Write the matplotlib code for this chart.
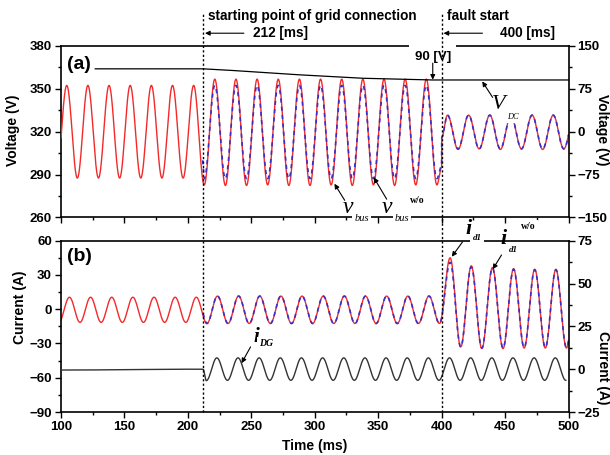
import numpy as np
import matplotlib
matplotlib.use("Agg")
import matplotlib.pyplot as plt
from matplotlib.lines import Line2D
from matplotlib import transforms
from matplotlib.ticker import MultipleLocator

plt.rcParams["font.family"] = ["Liberation Sans", "DejaVu Sans"]
plt.rcParams["font.weight"] = "bold"
plt.rcParams["axes.labelweight"] = "bold"

# event times (ms)
t_start, t_grid, t_fault, t_end = 100, 212, 400, 500
HALF = 16.67 / 2  # half period of the 60 Hz waves (ms)

# (a) v_bus (right axis, V): extrema every half period, first one a trough at 96.2 ms
vbus_first = 96.2
vbus_pre = [-81, 81, -81, 81, -81, 81, -81, 81, -81, 81, -81, 81, -81, 81]
vbus_mid = [-93, 92, -94, 92, -94, 92, -93, 92, -94, 92, -94, 92,
            -93, 92, -94, 92, -93, 92, -94, 92, -93, 92, -93]
vbus_post = [29, -31, 29, -30, 29, -31, 28, -30, 29, -31, 29, -30, 29]
vbus_jump = (-62, -10)  # just before / after the fault

# v_bus w/o (blue dashed), starts at grid connection
vbusw_first = vbus_first + 14 * HALF
vbusw_start = (211.5, -50)
vbusw_mid = [-82, 81, -82, 81, -82, 81, -82, 81, -82, 81, -82, 81,
             -82, 81, -82, 81, -82, 81, -82, 81, -82, 81, -82]
vbusw_post = [29, -30, 29, -30, 29, -30, 28, -30, 29, -30, 29, -30, 29]
vbusw_jump = (-60, -10)

# V_DC (right axis, V)
vdc_t = [127, 212, 236, 288, 338, 393, 500]
vdc_v = [110, 110, 107, 99.5, 93.5, 90.5, 90.5]

# (b) i_d1 (left axis, A): first extremum a trough at 98.3 ms
id1_first = 98.3
id1_pre = [-11.5, 10.5, -11.5, 10.5, -11.5, 10.5, -11.5, 10.5, -11.5, 10.5, -11.5, 10.5, -11.5, 10.5]
id1_mid = [-12.5, 11.5, -12.5, 11.5, -12.5, 11.5, -12.5, 11.5, -12.5, 11.5, -12.5, 11.5,
           -12.5, 11.5, -12.5, 11.5, -12.5, 11.5, -12.5, 11.5, -12.5, 11.5, -12.5]
id1_post = [45, -33, 38, -34.5, 36.5, -34.5, 35.5, -34, 35, -34, 35, -34, 35]

# i_d1 w/o (blue dashed)
id1w_first = id1_first + 14 * HALF
id1w_start = (211.5, -4)
id1w_mid = id1_mid
id1w_post = [41, -33, 37, -34, 36, -34, 35, -33.5, 34.5, -33.5, 34.5, -33.5, 34.5]

# i_DG (right axis, A): flat, then oscillating after grid connection
idg_flat = [(100, -0.5), (212, 0)]
idg_first = 214.5
idg_ext = [-6.7, 6.6, -6.5, 6.6, -6.5, 6.6, -6.5, 6.6, -6.5, 6.6, -6.5, 6.6,
           -6.5, 6.6, -6.5, 6.6, -6.5, 6.6, -6.5, 6.6, -6.5, 6.6, -6.5, 6.6,
           -6.5, 6.6, -6.5, 6.6, -6.5, 6.6, -6.5, 6.6, -6.5, 6.6, -6.5]

# axis ticks
volt_ticks = [260, 290, 320, 350, 380]
volt_r_ticks = [-150, -75, 0, 75, 150]
curr_ticks = [-90, -60, -30, 0, 30, 60]
curr_r_ticks = [-25, 0, 25, 50, 75]

RED = "#f22a2a"
BLUE = "#3a2fc8"


def knots(first, values, extra=()):
    kt = list(first + HALF * np.arange(len(values)))
    kv = list(values)
    for tx, vx in extra:
        kt.append(tx)
        kv.append(vx)
    order = np.argsort(kt, kind="stable")
    return np.array(kt)[order], np.array(kv)[order]


def smooth(kt, kv):
    # half a cosine between two read extrema
    t = np.arange(max(kt[0], t_start), min(kt[-1], t_end) + 1e-9, 0.02)
    i = np.clip(np.searchsorted(kt, t, side="right") - 1, 0, len(kt) - 2)
    t0, t1 = kt[i], kt[i + 1]
    s = np.clip((t - t0) / np.maximum(t1 - t0, 1e-9), 0, 1)
    return t, kv[i] + (kv[i + 1] - kv[i]) * (1 - np.cos(np.pi * s)) / 2


def jump(before_after):
    return [(t_fault - 0.01, before_after[0]), (t_fault, before_after[1])]


def set_y(ax, ticks):
    ax.set_ylim(ticks[0], ticks[-1])
    ax.set_yticks(ticks)
    step = ticks[1] - ticks[0]
    ax.set_yticks(np.arange(ticks[0] + step / 2, ticks[-1], step), minor=True)


fig = plt.figure(figsize=(6.1, 4.55), dpi=100)
ax1 = fig.add_axes([0.1, 0.522, 0.832, 0.377])
ax2 = fig.add_axes([0.1, 0.0945, 0.832, 0.3765])
ax1r = ax1.twinx()
ax2r = ax2.twinx()

# ---- (a)
kt, kv = knots(vbus_first, vbus_pre + vbus_mid + vbus_post, jump(vbus_jump))
ax1r.plot(*smooth(kt, kv), color=RED, lw=1.0)
kt, kv = knots(vbusw_first, vbusw_mid + vbusw_post, [vbusw_start] + jump(vbusw_jump))
ax1r.plot(*smooth(kt, kv), color=BLUE, lw=1.2, dashes=(2.5, 2.5))
ax1r.plot(vdc_t, vdc_v, color="black", lw=0.9)

# ---- (b)
kt, kv = knots(id1_first, id1_pre + id1_mid + id1_post)
ax2.plot(*smooth(kt, kv), color=RED, lw=1.0)
kt, kv = knots(id1w_first, id1w_mid + id1w_post, [id1w_start])
ax2.plot(*smooth(kt, kv), color=BLUE, lw=1.2, dashes=(2.5, 2.5))
kt, kv = knots(idg_first, idg_ext, idg_flat)
ax2r.plot(*smooth(kt, kv), color="#333333", lw=1.0)

# ---- axes styling
for ax in (ax1, ax2):
    ax.set_xlim(t_start, t_end)
    ax.xaxis.set_major_locator(MultipleLocator(50))
    ax.xaxis.set_minor_locator(MultipleLocator(25))
    ax.spines["right"].set_visible(False)
for ax in (ax1r, ax2r):
    for s in ("left", "top", "bottom"):
        ax.spines[s].set_visible(False)
for ax in (ax1, ax2, ax1r, ax2r):
    for s in ax.spines.values():
        s.set_linewidth(1.2)
    ax.tick_params(which="both", direction="out", width=1, labelsize=9.5, pad=2)
    ax.tick_params(which="major", length=4.5)
    ax.tick_params(which="minor", length=2.5)
ax1.tick_params(axis="x", labelbottom=False)

set_y(ax1, volt_ticks)
set_y(ax1r, volt_r_ticks)
set_y(ax2, curr_ticks)
set_y(ax2r, curr_r_ticks)

ax1.set_ylabel("Voltage (V)", fontsize=10, va="center")
ax1.yaxis.set_label_coords(-0.094, 0.51)
ax1r.set_ylabel("Voltage (V)", fontsize=10, rotation=270, va="center")
ax1r.yaxis.set_label_coords(1.066, 0.51)
ax2.set_ylabel("Current (A)", fontsize=10, va="center")
ax2.yaxis.set_label_coords(-0.08, 0.61)
ax2r.set_ylabel("Current (A)", fontsize=10, rotation=270, va="center")
ax2r.yaxis.set_label_coords(1.068, 0.26)
ax2.set_xlabel("Time (ms)", fontsize=10, va="center")
ax2.xaxis.set_label_coords(0.5, -0.198)

ax1.text(0.012, 0.89, "(a)", transform=ax1.transAxes, fontsize=14, va="center")
ax2.text(0.012, 0.905, "(b)", transform=ax2.transAxes, fontsize=14, va="center")

# ---- symbols with arrows
serif = ["Liberation Serif", "DejaVu Serif"]
arrow = dict(arrowstyle="-|>", color="black", lw=0.8, mutation_scale=7, shrinkA=0, shrinkB=0)
white = dict(fc="white", ec="none", pad=1.5)


def symbol(ax, x, y, main, sub, sub_off, sup=None, sup_off=None, size=17,
           weight="normal", subsize=7.5):
    ax.text(x, y, main, fontsize=size, family=serif, style="italic", weight=weight,
            ha="center", va="center", clip_on=False)
    ax.annotate(sub, (x, y), xytext=sub_off, textcoords="offset points", fontsize=subsize,
                family=serif, style="italic", weight=weight, ha="center", va="center",
                bbox=white, annotation_clip=False)
    if sup:
        ax.annotate(sup, (x, y), xytext=sup_off, textcoords="offset points", fontsize=7,
                    family=serif, weight="bold", ha="center", va="center",
                    bbox=white, annotation_clip=False)


def pointer(ax, tail, head):
    ax.annotate("", xy=head, xytext=tail, arrowprops=arrow, annotation_clip=False)


symbol(ax1r, 326, -133, "v", "bus", (10, -8))
pointer(ax1r, (323.6, -120), (315.5, -91))
symbol(ax1r, 356.7, -133, "v", "bus", (11, -8), "w/o", (22, 5))
pointer(ax1r, (356.7, -118), (346.5, -80))
symbol(ax1r, 445, 48, "V", "DC", (10, -9), size=16, subsize=6)
pointer(ax1r, (440.2, 60), (432, 88))
ax1r.text(393, 131, "90 [V]", fontsize=9.5, ha="center", va="center",
          bbox=dict(fc="white", ec="none", pad=4))
pointer(ax1r, (393, 120), (393, 91))

symbol(ax2, 421.3, 70, "i", "d1", (6, -6), size=16, weight="bold", subsize=6.5)
pointer(ax2, (416.5, 59), (408, 46))
symbol(ax2, 448.8, 61.5, "i", "d1", (7, -8), "w/o", (18, 9), size=16, weight="bold", subsize=6.5)
pointer(ax2, (447.2, 47.5), (440.3, 35))
symbol(ax2r, 254.3, 18.8, "i", "DG", (7, -5), size=15, weight="bold", subsize=7)
pointer(ax2r, (249.4, 13), (242.3, 3.5))

# ---- event lines and headers
blend = transforms.blended_transform_factory(ax2.transData, fig.transFigure)
for te in (t_grid, t_fault):
    fig.add_artist(Line2D([te, te], [0.0945, 0.971], transform=blend, color="black",
                          lw=1.0, dashes=(1.6, 1.6)))

fig.text(0.341, 0.965, "starting point of grid connection", fontsize=9.8, va="center")
fig.text(0.415, 0.927, "212 [ms]", fontsize=9.8, va="center")
fig.text(0.733, 0.965, "fault start", fontsize=9.8, va="center")
fig.text(0.82, 0.927, "400 [ms]", fontsize=9.8, va="center")
for te in (t_grid, t_fault):
    ax2.annotate("", xy=(te + 1.5, 0.927), xycoords=("data", "figure fraction"),
                 xytext=(28, 0), textcoords="offset points", arrowprops=arrow,
                 annotation_clip=False)

fig.savefig("out.png", dpi=100)
